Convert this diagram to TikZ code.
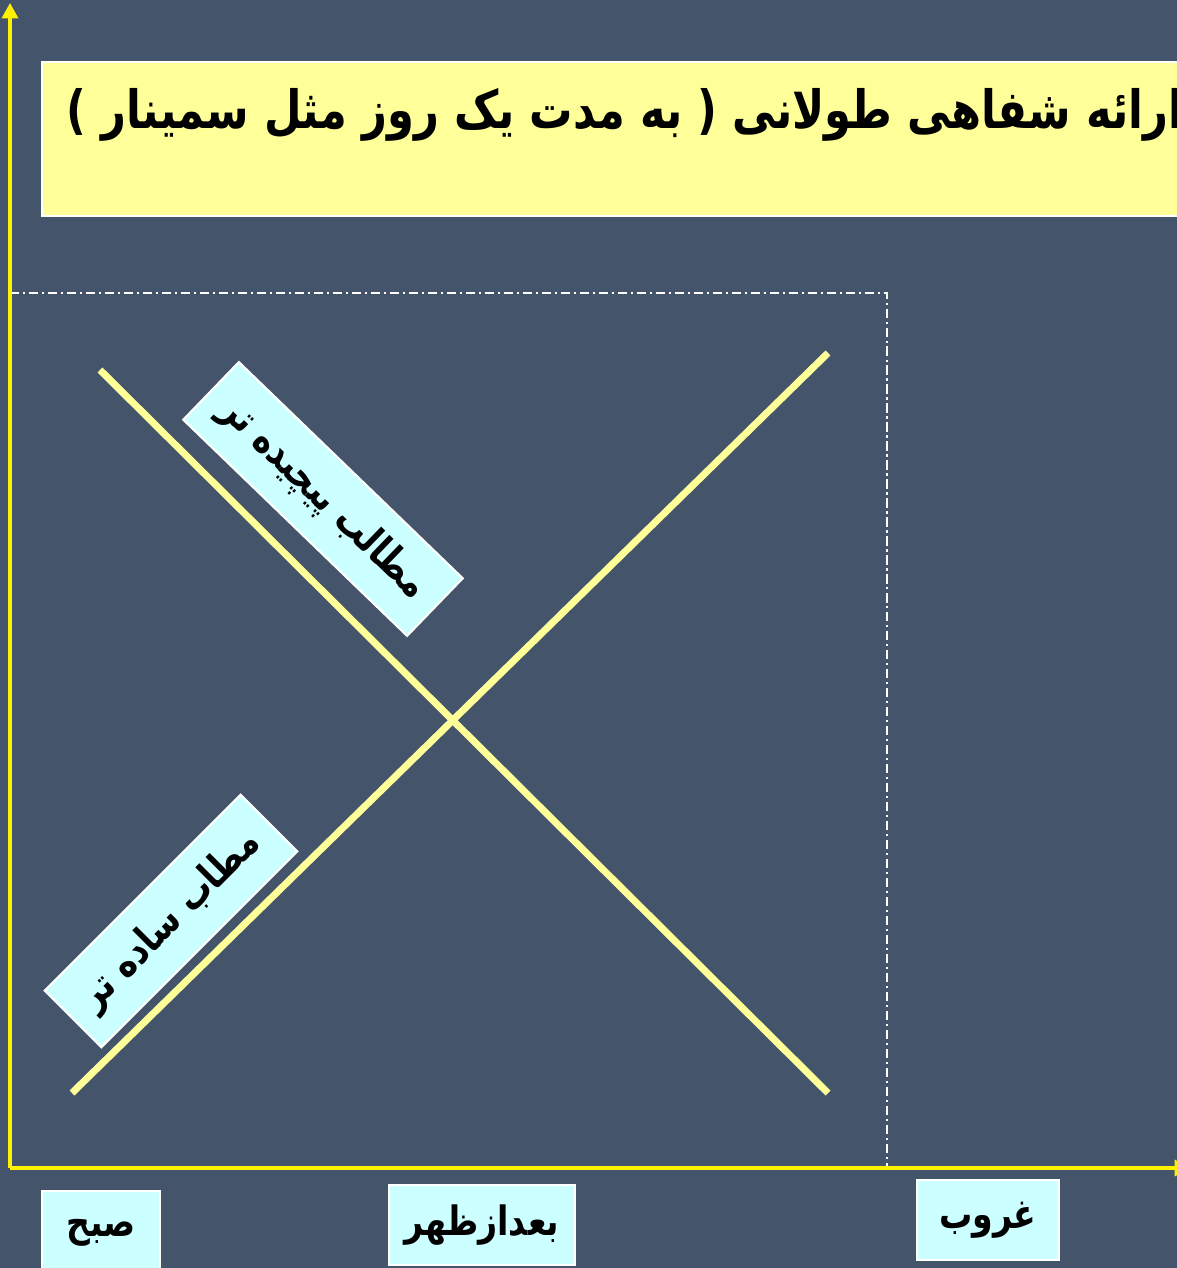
\documentclass[tikz,border=0pt]{standalone}
\usepackage{fontspec}
\newfontfamily\arabicfont[Script=Arabic]{DejaVu Sans}
\TeXXeTstate=1
\usetikzlibrary{arrows.meta}

\definecolor{slide}{HTML}{44546A}
\definecolor{titlefill}{HTML}{FFFF99}
\definecolor{tagfill}{HTML}{CCFFFF}
\definecolor{trendline}{HTML}{FFFF99}

\tikzset{
  axis/.style={yellow, line width=0.9pt, -{Triangle[width=4.6pt,length=4.4pt]}},
  guide/.style={white, line width=0.45pt, dash pattern=on 2.6pt off 1.1pt on 0.6pt off 1.1pt},
  trend/.style={trendline, line width=2pt},
  tag/.style={fill=tagfill, draw=white, line width=0.6pt, inner sep=0pt,
    font=\arabicfont\bfseries\fontsize{11.5}{14}\selectfont},
  titlebox/.style={fill=titlefill, draw=white, line width=0.7pt},
}

% narrow the wide DejaVu Arabic a little, right to left
\newcommand{\fa}[1]{\scalebox{0.82}[1]{\beginR #1\endR}}

\begin{document}
\begin{tikzpicture}[x=0.01cm, y=-0.01cm]
  % 1. Slide background
  \fill[slide] (0,0) rectangle (1177,1268);
  \useasboundingbox (0,0) rectangle (1177,1268);
  \clip (0,0) rectangle (1177,1268);

  % 2. Define the axis points
  \coordinate (O) at (10,1168);
  \coordinate (Ytop) at (10,3);
  \coordinate (Xend) at (1190,1168);

  % --- STEP 1: THE TITLE ---
  \draw[titlebox] (42,62) rectangle (1210,216);
  \node[anchor=base east, inner sep=0pt, font=\arabicfont\bfseries\fontsize{15}{18}\selectfont]
    (title) at (1184,129) {\fa{ارائه شفاهی طولانی ( به مدت یک روز مثل سمینار )}};

  % --- STEP 2: AXES AND GUIDE FRAME ---
  \coordinate (G1) at (10,293);
  \coordinate (G2) at (887,293);
  \coordinate (G3) at (887,1168);
  \draw[guide] (G1) -- (G2) -- (G3);
  \draw[axis] (O) -- (Ytop);
  \draw[axis] (O) -- (Xend);

  % --- STEP 3: THE TWO TRENDS ---
  \coordinate (H1) at (100,370);
  \coordinate (H2) at (828,1093);
  \coordinate (E1) at (72,1093);
  \coordinate (E2) at (828,353);
  \draw[trend] (H1) -- (H2);
  \draw[trend] (E1) -- (E2);

  % B. The labels along the lines
  \node[tag, rotate=-44, minimum width=3.11cm, minimum height=0.8cm]
    (hard) at (323,499) {\fa{مطالب پیچیده تر}};
  \node[tag, rotate=45, minimum width=2.77cm, minimum height=0.8cm]
    (easy) at (171,921) {\fa{مطاب ساده تر}};

  % --- STEP 4: TIME OF DAY ---
  \node[tag, minimum width=1.18cm, minimum height=0.84cm] (morning) at (101,1233) {\fa{صبح}};
  \node[tag, minimum width=1.86cm, minimum height=0.8cm] (noon) at (482,1225) {\fa{بعدازظهر}};
  \node[tag, minimum width=1.42cm, minimum height=0.8cm] (sunset) at (988,1220) {\fa{غروب}};
\end{tikzpicture}
\end{document}
